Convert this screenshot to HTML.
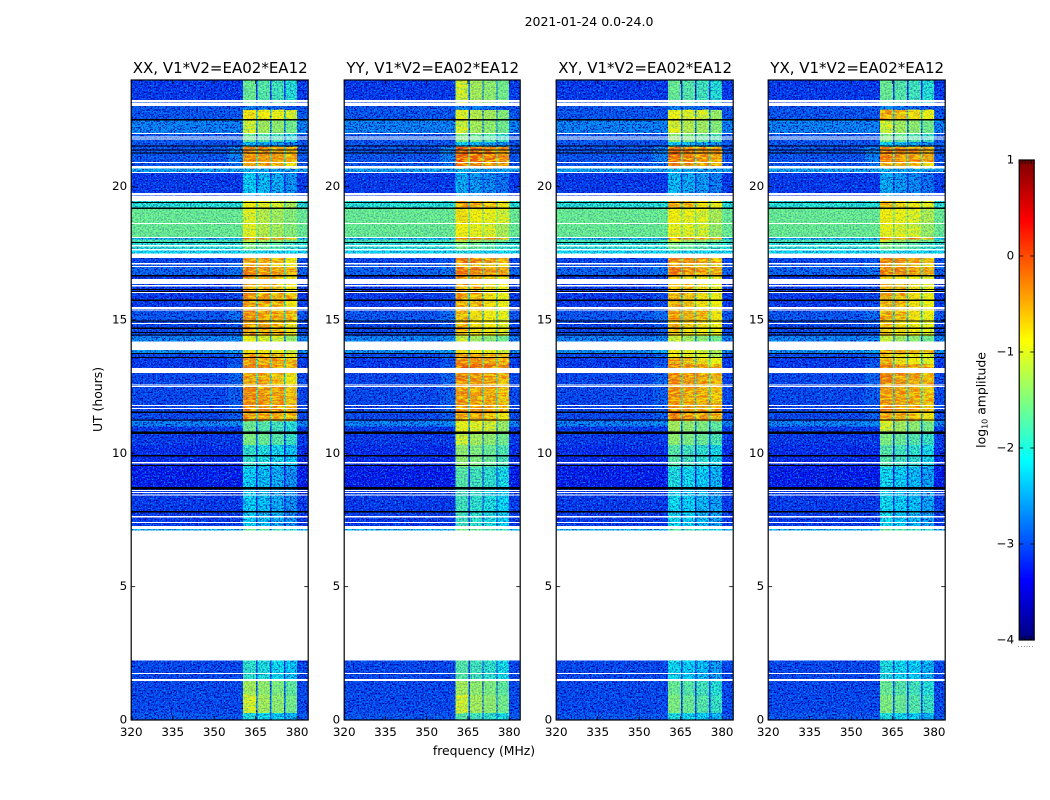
<!DOCTYPE html>
<html lang="en">
<head>
<meta charset="utf-8">
<title>2021-01-24 0.0-24.0</title>
<style>
html,body{margin:0;padding:0;background:#fff;}
svg{display:block;}
text{font-family:"DejaVu Sans","Liberation Sans",sans-serif;fill:#000;}
</style>
</head>
<body>
<svg id="figure" xmlns="http://www.w3.org/2000/svg" width="1050" height="800" viewBox="0 0 1050 800">
  <defs>
    <filter id="noise-light" x="0" y="0" width="100%" height="100%" color-interpolation-filters="sRGB">
      <feTurbulence type="fractalNoise" baseFrequency="0.62" numOctaves="2" seed="4"/>
      <feColorMatrix type="matrix" values="0 0 0 0 0  0 0 0 0 0.55  0 0 0 0 1  4.2 0 0 0 -1.95"/>
    </filter>
    <filter id="noise-dark" x="0" y="0" width="100%" height="100%" color-interpolation-filters="sRGB">
      <feTurbulence type="fractalNoise" baseFrequency="0.62" numOctaves="2" seed="11"/>
      <feColorMatrix type="matrix" values="0 0 0 0 0  0 0 0 0 0  0 0 0 0 0.6  4.2 0 0 0 -1.95"/>
    </filter>
    <filter id="noise-warm" x="0" y="0" width="100%" height="100%" color-interpolation-filters="sRGB">
      <feTurbulence type="fractalNoise" baseFrequency="0.14 0.55" numOctaves="2" seed="7"/>
      <feColorMatrix type="matrix" values="0 0 0 0 1  0 0 0 0 0.95  0 0 0 0 0  5 0 0 0 -2.2"/>
    </filter>
    <filter id="noise-hot" x="0" y="0" width="100%" height="100%" color-interpolation-filters="sRGB">
      <feTurbulence type="fractalNoise" baseFrequency="0.14 0.55" numOctaves="2" seed="19"/>
      <feColorMatrix type="matrix" values="0 0 0 0 1  0 0 0 0 0.35  0 0 0 0 0  5 0 0 0 -2.5"/>
    </filter>
  </defs>
  <text x="589" y="26" font-size="12.5" text-anchor="middle">2021-01-24 0.0-24.0</text>
  <g id="panels"></g>
  <text x="484" y="755" font-size="12.4" text-anchor="middle">frequency (MHz)</text>
  <text transform="translate(102 399.5) rotate(-90)" font-size="12.4" text-anchor="middle">UT (hours)</text>
  <g id="colorbar"></g>
  <text transform="translate(985.5 400) rotate(-90)" font-size="12.4" text-anchor="middle">log<tspan font-size="8" dy="2">10</tspan><tspan dy="-2"> amplitude</tspan></text>
  <text x="1026" y="647" font-size="6" fill="#000" text-anchor="middle" letter-spacing="0.9">......</text>
</svg>
<script>
const panelNames = ['XX', 'YY', 'XY', 'YX'];
const bandTopHours = [24.00,23.03,22.88,22.5,21.98,21.68,21.49,20.93,20.68,20.51,19.46,19.2,18.6,18.08,18.02,17.89,17.63,17.33,17.1,16.99,16.65,16.35,16.01,15.71,15.34,14.96,14.66,14.4,13.88,13.73,13.58,13.35,13.01,12.53,11.66,11.51,11.21,11.0,10.76,10.31,9.49,8.66,7.61,7.16,2.24,1.46,0.94,0.26];
const backgroundLevels = [-3.1,-2.9,-2.9,-2.6,-2.9,-2.9,-2.9,-2.9,-2.4,-3.1,-1.9,-1.55,-1.55,-2.4,-1.7,-1.9,-2.1,-3.0,-2.9,-2.8,-3.1,-3.1,-3.1,-3.1,-2.9,-3.0,-3.0,-2.6,-2.5,-3.0,-3.1,-3.1,-3.0,-3.0,-3.0,-3.0,-2.6,-3.1,-3.1,-3.2,-3.3,-3.1,-3.1,-2.3,-3.0,-3.0,-3.0,-2.9];
const shoulderBoost = [0,0,0,0,0,0,0.3,0.2,0,0,0,0,0,0,0,0,0,0.1,0.1,0.1,0.1,0.1,0.1,0.1,0.15,0.1,0.1,0.05,0.1,0.15,0.15,0.25,0.2,0.15,0.15,0.15,0.05,0,0,0,0,0,0,0,0,0,0,0];
const signalXX = [-1.6,-2.6,-0.8,-1.2,-1.6,-2.3,-0.3,-0.5,-2.3,-2.2,-0.9,-1.1,-1.1,-0.2,-1.2,-1.5,-2.0,-0.5,-0.6,-0.3,-0.5,-0.5,-0.4,-0.5,-0.4,-0.5,-0.5,-1.0,-0.8,-0.5,-0.4,-0.3,-0.5,-0.3,-0.2,-0.4,-1.6,-1.6,-1.5,-1.9,-2.2,-2.2,-2.2,-1.6,-1.9,-1.3,-1.2,-2.0];
const signalYY = [-1.2,-2.6,-1.1,-1.2,-1.5,-2.2,0.0,-0.2,-2.3,-2.4,-0.5,-0.8,-0.9,-0.2,-1.2,-1.5,-2.0,-0.2,-0.5,-0.2,-0.5,-0.6,-0.6,-0.6,-0.7,-0.7,-0.7,-1.2,-0.8,-0.4,-0.3,0.0,-0.3,-0.4,-0.3,-0.5,-1.0,-1.0,-1.2,-1.4,-1.7,-1.8,-1.8,-1.5,-1.7,-1.3,-1.2,-1.7];
const signalXY = [-1.6,-2.6,-1.0,-1.1,-1.4,-2.2,-0.15,-0.3,-2.3,-2.3,-0.6,-0.9,-1.0,-0.2,-1.2,-1.5,-2.0,-0.3,-0.5,-0.2,-0.7,-0.6,-0.6,-0.6,-0.5,-0.6,-0.7,-1.2,-0.9,-0.9,-0.6,-0.3,-0.3,-0.4,-0.2,-0.3,-1.3,-1.3,-1.4,-1.7,-2.0,-2.1,-2.1,-1.7,-2.1,-1.6,-1.5,-2.0];
const signalYX = [-1.6,-2.6,-0.6,-1.2,-1.5,-2.2,-0.2,-0.5,-2.3,-2.4,-0.7,-0.9,-1.0,-0.2,-1.2,-1.5,-2.0,-0.3,-0.5,-0.2,-0.7,-0.6,-0.6,-0.6,-0.6,-0.7,-0.7,-1.2,-0.4,-0.7,-0.7,-0.3,-0.3,-0.4,-0.3,-0.5,-1.2,-1.2,-1.5,-1.7,-2.1,-2.1,-2.1,-1.6,-2.0,-1.6,-1.5,-2.0];
const channelEdges = [320,355,360.5,365.2,365.7,370.2,370.7,375.3,375.8,380,384];
const channelGains = [null,null,0.05,-1.5,-0.05,-1.5,-0.15,-1.5,-0.3,null];
const flaggedTopHours = [23.25,23.15,22.01,21.88,21.8,20.93,20.78,20.55,19.76,19.66,18.64,18.11,17.81,17.66,17.5,17.14,17.03,16.53,16.31,16.05,15.48,15.38,14.89,14.19,13.2,12.58,12.53,11.81,11.7,9.68,8.63,8.55,8.45,7.65,7.43,7.28,7.1,1.76,1.54];
const flaggedBottomHours = [23.18,23.03,21.97,21.85,21.76,20.89,20.68,20.51,19.69,19.46,18.6,18.08,17.75,17.61,17.33,17.08,16.99,16.35,16.26,16.01,15.4,15.35,14.85,13.88,13.02,12.54,12.49,11.78,11.66,9.62,8.59,8.51,8.41,7.59,7.39,7.16,2.24,1.73,1.47];
const dropoutHours = [22.51,21.53,21.38,21.27,19.41,19.19,17.9,16.66,16.15,16.07,15.74,14.97,14.69,14.53,14.44,13.75,13.59,11.54,11.25,10.77,9.91,9.54,8.69,7.81];
const dropoutSpans = [0.04,0.04,0.04,0.04,0.04,0.04,0.04,0.04,0.04,0.04,0.04,0.04,0.04,0.04,0.04,0.04,0.04,0.04,0.04,0.08,0.04,0.04,0.08,0.04];
const xTickValues = [320,335,350,365,380];
const yTickValues = [0,5,10,15,20];
const colorbarTickValues = [-4,-3,-2,-1,0,1];
const colorbarEdgeTicks = [0,0.2,0.4,0.6,0.8,1];

const NS = 'http://www.w3.org/2000/svg';
const signalsByPanel = [signalXX, signalYY, signalXY, signalYX];
const panelLefts = [131.2, 344.2, 556.2, 768.2];
const panelWidths = [177, 176, 177, 177];
const plotTop = 80, plotBottom = 720;
const barLeft = 1019.2, barRight = 1034.2, barTop = 160, barBottom = 640;

function make(parent, tag, attrs, content) {
  const node = document.createElementNS(NS, tag);
  for (const key in attrs) node.setAttribute(key, attrs[key]);
  if (content !== undefined) node.textContent = content;
  parent.appendChild(node);
  return node;
}
function clamp01(v) { return Math.max(0, Math.min(1, v)); }
function jet(level) {
  const t = clamp01((level + 4) / 5);
  const r = clamp01(1.5 - Math.abs(4 * t - 3));
  const g = clamp01(1.5 - Math.abs(4 * t - 2));
  const b = clamp01(1.5 - Math.abs(4 * t - 1));
  return 'rgb(' + Math.round(r * 255) + ',' + Math.round(g * 255) + ',' + Math.round(b * 255) + ')';
}
function yScale(hour) { return plotBottom - (hour / 24) * (plotBottom - plotTop); }
function xScaleFor(p) {
  return function (mhz) { return panelLefts[p] + ((mhz - 320) / 64) * panelWidths[p]; };
}
function barScale(level) { return barBottom - ((level + 4) / 5) * (barBottom - barTop); }
function cellLevel(p, b, c) {
  const bg = backgroundLevels[b];
  const gain = channelGains[c];
  if (gain === null) return c === 1 ? bg + shoulderBoost[b] : bg;
  return Math.max(bg, signalsByPanel[p][b] + gain);
}
function coverOpacity(level) { return clamp01((level + 2.7) / 1.2) * 0.72; }

const panelsRoot = document.getElementById('panels');
panelNames.forEach(function (name, p) {
  const x = xScaleFor(p);
  const left = panelLefts[p], right = left + panelWidths[p];
  const group = make(panelsRoot, 'g', {});
  
  

  const cells = make(group, 'g', { 'shape-rendering': 'crispEdges' });
  
  
  function forEachCell(draw) {
    bandTopHours.forEach(function (top, b) {
      const bottom = b + 1 < bandTopHours.length ? bandTopHours[b + 1] : 0;
      channelGains.forEach(function (gain, c) {
        draw(cellLevel(p, b, c), {
          x: x(channelEdges[c]), y: yScale(top),
          width: x(channelEdges[c + 1]) - x(channelEdges[c]),
          height: yScale(bottom) - yScale(top)
        }, gain);
      });
    });
  }
  forEachCell(function (level, box) {
    box.fill = jet(level);
    const cell = make(cells, 'rect', box);
    
    
  });

  const texture = make(group, 'g', {});
  
  
  ['noise-light', 'noise-dark'].forEach(function (id) {
    make(texture, 'rect', {
      x: left, y: plotTop, width: panelWidths[p], height: plotBottom - plotTop,
      fill: '#000', filter: 'url(#' + id + ')'
    });
  });

  const covers = make(group, 'g', { 'shape-rendering': 'crispEdges' });
  
  
  forEachCell(function (level, box) {
    const opacity = coverOpacity(level);
    if (opacity <= 0) return;
    box.fill = jet(level);
    box.opacity = opacity;
    const cover = make(covers, 'rect', box);
    
    
  });

  const warm = make(group, 'g', {});
  
  
  forEachCell(function (level, box, gain) {
    if (gain === null || gain < -1 || level < -1.15) return;
    box.fill = '#000';
    box.filter = 'url(#noise-warm)';
    box.opacity = 0.75;
    make(warm, 'rect', box);
    if (level > -0.75) {
      const hot = Object.assign({}, box);
      hot.filter = 'url(#noise-hot)';
      hot.opacity = 0.7;
      make(warm, 'rect', hot);
    }
  });

  const flagged = make(group, 'g', { 'shape-rendering': 'crispEdges' });
  
  
  flaggedTopHours.forEach(function (top, i) {
    const band = make(flagged, 'rect', {
      x: left, y: yScale(top), width: panelWidths[p],
      height: yScale(flaggedBottomHours[i]) - yScale(top), fill: '#fff'
    });
    
    
  });

  const dropouts = make(group, 'g', { 'shape-rendering': 'crispEdges' });
  
  
  dropoutHours.forEach(function (hour, i) {
    const line = make(dropouts, 'rect', {
      x: left, y: yScale(hour + dropoutSpans[i] / 2), width: panelWidths[p],
      height: yScale(hour - dropoutSpans[i] / 2) - yScale(hour + dropoutSpans[i] / 2), fill: '#000'
    });
    
    
  });

  const frame = make(group, 'rect', {
    x: left, y: plotTop, width: panelWidths[p], height: plotBottom - plotTop,
    fill: 'none', stroke: '#000', 'stroke-width': 1.2
  });
  
  

  const title = make(group, 'text', {
    x: left + panelWidths[p] / 2 + 0.5, y: 73, 'font-size': 15, 'text-anchor': 'middle'
  }, name + ', V1*V2=EA02*EA12');
  
  

  xTickValues.forEach(function (v) {
    const bottomTick = make(group, 'line', { x1: x(v), x2: x(v), y1: plotBottom, y2: plotBottom - 4, stroke: '#000', 'stroke-width': 0.8 });
    
    
    const topTick = make(group, 'line', { x1: x(v), x2: x(v), y1: plotTop, y2: plotTop + 4, stroke: '#000', 'stroke-width': 0.8 });
    
    
    const label = make(group, 'text', { x: x(v), y: 736, 'font-size': 11.9, 'text-anchor': 'middle' }, String(v));
    
    
  });
  yTickValues.forEach(function (v) {
    const leftTick = make(group, 'line', { x1: left, x2: left + 4, y1: yScale(v), y2: yScale(v), stroke: '#000', 'stroke-width': 0.8 });
    
    
    const rightTick = make(group, 'line', { x1: right, x2: right - 4, y1: yScale(v), y2: yScale(v), stroke: '#000', 'stroke-width': 0.8 });
    
    
    const label = make(group, 'text', { x: left - 4, y: yScale(v) + 3.5, 'font-size': 11.9, 'text-anchor': 'end' }, String(v));
    
    
  });
});

const barRoot = document.getElementById('colorbar');
const barSteps = make(barRoot, 'g', { 'shape-rendering': 'crispEdges' });


for (let i = 0; i < 256; i++) {
  const low = -4 + (5 * i) / 256, high = -4 + (5 * (i + 1)) / 256;
  const step = make(barSteps, 'rect', {
    x: barLeft, y: barScale(high), width: barRight - barLeft,
    height: barScale(low) - barScale(high) + 0.5, fill: jet((low + high) / 2)
  });
  
  
}
const barFrame = make(barRoot, 'rect', {
  x: barLeft, y: barTop, width: barRight - barLeft, height: barBottom - barTop,
  fill: 'none', stroke: '#000', 'stroke-width': 1.2
});


colorbarTickValues.forEach(function (v) {
  const y = barScale(v);
  const leftTick = make(barRoot, 'line', { x1: barLeft, x2: barLeft + 4, y1: y, y2: y, stroke: '#000', 'stroke-width': 0.8 });
  
  
  const rightTick = make(barRoot, 'line', { x1: barRight, x2: barRight - 4, y1: y, y2: y, stroke: '#000', 'stroke-width': 0.8 });
  
  
  const label = make(barRoot, 'text', { x: barLeft - 5, y: y + 3.5, 'font-size': 11.9, 'text-anchor': 'end' }, v < 0 ? '\u2212' + Math.abs(v) : String(v));
  
  
});
colorbarEdgeTicks.forEach(function (f) {
  const x = barLeft + f * (barRight - barLeft);
  const bottomTick = make(barRoot, 'line', { x1: x, x2: x, y1: barBottom, y2: barBottom - 4, stroke: '#000', 'stroke-width': 0.8 });
  
  
  const topTick = make(barRoot, 'line', { x1: x, x2: x, y1: barTop, y2: barTop + 4, stroke: '#000', 'stroke-width': 0.8 });
  
  
});
</script>
</body>
</html>
